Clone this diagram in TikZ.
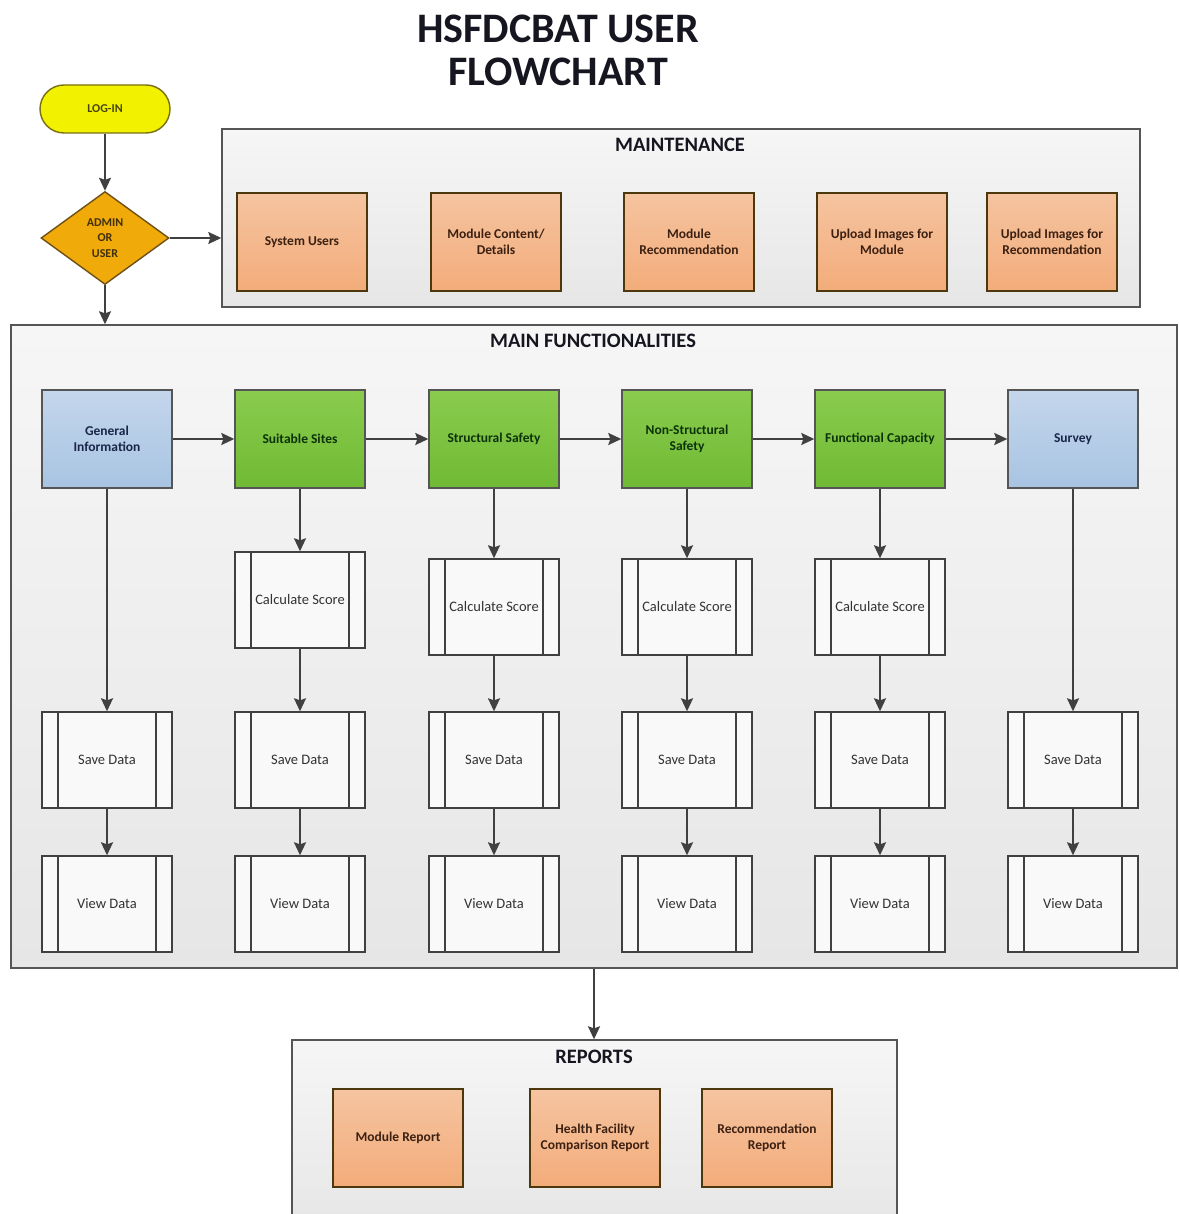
\documentclass[tikz,border=0pt]{standalone}
\usepackage{fontspec}
\setmainfont{Carlito}
\usepackage{xcolor}
\usepackage{tikz}
\usetikzlibrary{arrows.meta,positioning,calc,shapes.geometric}
\definecolor{linegray}{RGB}{64,64,64}
\definecolor{framegray}{RGB}{85,85,85}
\definecolor{panelgray}{RGB}{230,230,230}
\definecolor{paneltop}{RGB}{246,246,246}
\definecolor{peach}{RGB}{243,172,122}
\definecolor{peachtop}{RGB}{245,196,160}
\definecolor{peachtext}{RGB}{60,32,18}
\definecolor{leafgreen}{RGB}{112,186,52}
\definecolor{leaftop}{RGB}{138,204,78}
\definecolor{leaftext}{RGB}{12,50,10}
\definecolor{skyblue}{RGB}{168,196,226}
\definecolor{skytop}{RGB}{196,214,236}
\definecolor{skytext}{RGB}{25,38,72}
\definecolor{loginyellow}{RGB}{242,242,0}
\definecolor{loginedge}{RGB}{120,110,20}
\definecolor{adminorange}{RGB}{240,170,10}
\definecolor{adminedge}{RGB}{110,80,20}
\definecolor{procfill}{RGB}{249,249,249}
\definecolor{titleink}{RGB}{22,22,32}

\begin{document}
\begin{tikzpicture}[x=1pt, y=-1pt, >={Stealth[length=13pt, width=12pt, inset=2pt]},
    panel/.style={draw=framegray, line width=1.4pt, top color=paneltop, bottom color=panelgray, inner sep=0pt},
    paneltitle/.style={font=\bfseries\fontsize{20.5}{24}\selectfont, text=titleink},
    boxtext/.style={align=center, inner sep=2pt, minimum width=130pt, minimum height=98pt, line width=1.4pt},
    maintbox/.style={boxtext, draw=adminedge!70!black, top color=peachtop, bottom color=peach, text=peachtext, font=\bfseries\fontsize{13.5}{16}\selectfont},
    modbox/.style={boxtext, draw=framegray, top color=leaftop, bottom color=leafgreen, text=leaftext, font=\bfseries\fontsize{13.5}{16}\selectfont},
    infobox/.style={boxtext, draw=framegray, top color=skytop, bottom color=skyblue, text=skytext, font=\bfseries\fontsize{13.5}{16}\selectfont},
    procbox/.style={boxtext, minimum height=96pt, draw=linegray, fill=procfill, text=black!80, font=\fontsize{14.5}{16}\selectfont,
      path picture={
        \draw[linegray, line width=1.4pt] ([xshift=16pt]path picture bounding box.north west) -- ([xshift=16pt]path picture bounding box.south west);
        \draw[linegray, line width=1.4pt] ([xshift=-16pt]path picture bounding box.north east) -- ([xshift=-16pt]path picture bounding box.south east);
      }},
    flow/.style={->, draw=linegray, line width=1.7pt}]
\clip (0,0) rectangle (1178,1214);

% title
\node[font=\bfseries\fontsize{42}{43}\selectfont, align=center, text=titleink] (title) at (558,50) {HSFDCBAT USER\\FLOWCHART};

% log-in and role check
\node[draw=loginedge, line width=1.4pt, fill=loginyellow, rounded corners=24pt, minimum width=130pt, minimum height=48pt,
      font=\bfseries\fontsize{12}{14}\selectfont, text=loginedge!60!black] (login) at (105,109) {LOG-IN};
\node[diamond, draw=adminedge, line width=1.4pt, fill=adminorange, minimum width=128pt, minimum height=93pt, inner sep=0pt,
      align=center, font=\bfseries\fontsize{12}{15.5}\selectfont, text=adminedge!60!black] (adm) at (105,238) {ADMIN\\OR\\USER};

% maintenance panel
\node[panel, minimum width=918pt, minimum height=178pt] (maint) at (681,218) {};
\node[paneltitle] (mainttitle) at (680,145) {MAINTENANCE};
\node[maintbox] (users) at (302,242) {System Users};
\node[maintbox] (content) at (496,242) {Module Content/\\Details};
\node[maintbox] (recom) at (689,242) {Module\\Recommendation};
\node[maintbox] (upmod) at (882,242) {Upload Images for\\Module};
\node[maintbox] (uprec) at (1052,242) {Upload Images for\\Recommendation};

% main functionalities panel
\node[panel, minimum width=1166pt, minimum height=643pt] (main) at (594,646.5) {};
\node[paneltitle] (maintitle) at (593,341) {MAIN FUNCTIONALITIES};

\node[infobox] (gen) at (107,439) {General\\Information};
\node[modbox] (sites) at (300,439) {Suitable Sites};
\node[modbox] (struct) at (494,439) {Structural Safety};
\node[modbox] (nonstruct) at (687,439) {Non-Structural\\Safety};
\node[modbox] (func) at (880,439) {Functional Capacity};
\node[infobox] (survey) at (1073,439) {Survey};

\node[procbox] (calcb) at (300,600) {Calculate Score};
\node[procbox] (calcc) at (494,607) {Calculate Score};
\node[procbox] (calcd) at (687,607) {Calculate Score};
\node[procbox] (calce) at (880,607) {Calculate Score};

\node[procbox] (savea) at (107,760) {Save Data};
\node[procbox] (saveb) at (300,760) {Save Data};
\node[procbox] (savec) at (494,760) {Save Data};
\node[procbox] (saved) at (687,760) {Save Data};
\node[procbox] (savee) at (880,760) {Save Data};
\node[procbox] (savef) at (1073,760) {Save Data};

\node[procbox] (viewa) at (107,904) {View Data};
\node[procbox] (viewb) at (300,904) {View Data};
\node[procbox] (viewc) at (494,904) {View Data};
\node[procbox] (viewd) at (687,904) {View Data};
\node[procbox] (viewe) at (880,904) {View Data};
\node[procbox] (viewf) at (1073,904) {View Data};

% reports panel
\node[panel, minimum width=605pt, minimum height=190pt] (reports) at (594.5,1135) {};
\node[paneltitle] (reptitle) at (594,1057) {REPORTS};
\node[maintbox] (modrep) at (398,1138) {Module Report};
\node[maintbox] (hfrep) at (595,1138) {Health Facility\\Comparison Report};
\node[maintbox] (recrep) at (767,1138) {Recommendation\\Report};

% connectors
\draw[flow] (login) -- (adm);
\draw[flow] (adm.east) -- (adm.east -| maint.west);
\draw[flow] (adm.south) -- (adm.south |- main.north);

\draw[flow] (gen) -- (sites);
\draw[flow] (sites) -- (struct);
\draw[flow] (struct) -- (nonstruct);
\draw[flow] (nonstruct) -- (func);
\draw[flow] (func) -- (survey);

\draw[flow] (gen) -- (savea);
\draw[flow] (sites) -- (calcb);
\draw[flow] (struct) -- (calcc);
\draw[flow] (nonstruct) -- (calcd);
\draw[flow] (func) -- (calce);
\draw[flow] (survey) -- (savef);

\draw[flow] (calcb) -- (saveb);
\draw[flow] (calcc) -- (savec);
\draw[flow] (calcd) -- (saved);
\draw[flow] (calce) -- (savee);

\draw[flow] (savea) -- (viewa);
\draw[flow] (saveb) -- (viewb);
\draw[flow] (savec) -- (viewc);
\draw[flow] (saved) -- (viewd);
\draw[flow] (savee) -- (viewe);
\draw[flow] (savef) -- (viewf);

\draw[flow] (main.south) -- (main.south |- reports.north);
\end{tikzpicture}
\end{document}
